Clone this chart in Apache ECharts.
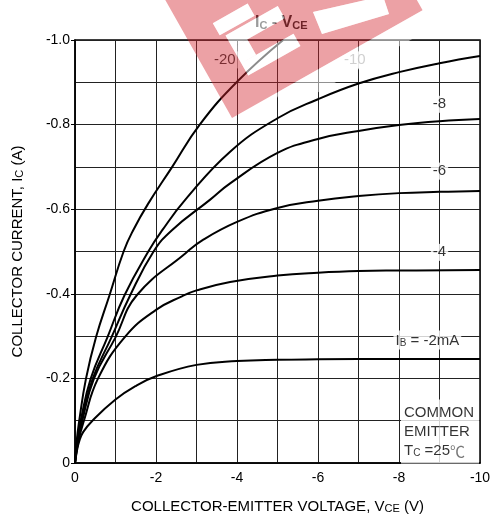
<!DOCTYPE html>
<html><head><meta charset="utf-8">
<script src="https://cdn.jsdelivr.net/npm/echarts@6/dist/echarts.min.js"></script>
<style>html,body{margin:0;padding:0;background:#fff}#c{width:490px;height:517px}</style>
</head><body><div id="c"></div>
<script>
// ---------- data ----------
const xTickValues = [0, -2, -4, -6, -8, -10];
const yTickValues = [0, -0.2, -0.4, -0.6, -0.8, -1.0];

const vce_ib2  = [0, -0.05, -0.1, -0.2, -0.43, -1, -1.5, -2, -3, -4, -5, -6, -8, -10];
const ic_ib2   = [0, -0.03, -0.05, -0.073, -0.1, -0.15, -0.182, -0.205, -0.232, -0.241, -0.244, -0.245, -0.246, -0.246];

const vce_ib4  = [0, -0.08, -0.22, -0.57, -1.25, -2, -2.64, -3, -3.83, -5, -6, -7, -8, -10];
const ic_ib4   = [0, -0.05, -0.1, -0.2, -0.3, -0.362, -0.394, -0.408, -0.428, -0.443, -0.45, -0.454, -0.455, -0.456];

const vce_ib6  = [0, -0.07, -0.18, -0.47, -1.0, -1.52, -2.73, -3.15, -4, -5, -6, -7, -8, -9, -10];
const ic_ib6   = [0, -0.05, -0.1, -0.2, -0.297, -0.396, -0.496, -0.527, -0.57, -0.603, -0.62, -0.631, -0.638, -0.641, -0.643];

const vce_ib8  = [0, -0.06, -0.16, -0.44, -0.9, -1.36, -1.94, -2.4, -3.33, -3.83, -5, -6, -7, -8, -9, -10];
const ic_ib8   = [0, -0.05, -0.1, -0.2, -0.297, -0.396, -0.5, -0.551, -0.622, -0.661, -0.733, -0.766, -0.785, -0.799, -0.808, -0.813];

const vce_ib10 = [0, -0.05, -0.14, -0.39, -0.8, -1.22, -1.81, -2.16, -2.72, -3.83, -5, -6, -7, -8, -9, -10];
const ic_ib10  = [0, -0.05, -0.1, -0.2, -0.297, -0.396, -0.5, -0.551, -0.622, -0.736, -0.815, -0.86, -0.897, -0.924, -0.945, -0.962];

const vce_ib20 = [0, -0.04, -0.1, -0.27, -0.52, -0.85, -1.2, -1.44, -1.8, -2.4, -3.08, -4.02, -5.14];
const ic_ib20  = [0, -0.05, -0.097, -0.199, -0.298, -0.396, -0.5, -0.551, -0.612, -0.7, -0.8, -0.903, -1.0];

// curve annotation labels (text, V, I)
const annText = ['-20', '-10', '-8', '-6', '-4', '{t|I}{s|B}{t| = -2mA}'];
const annV    = [-3.7, -6.91, -9.0, -9.0, -9.0, -8.7];
const annI    = [-0.953, -0.953, -0.848, -0.69, -0.498, -0.291];
const annColor = ['#000', '#888', '#000', '#000', '#000', '#000'];

// condition note anchor (top-left corner of the note)
const noteV = [-8.05];
const noteI = [-0.15];

// ---------- chart ----------
const FONT = '"Liberation Sans", Arial, sans-serif';
const zip = (a, b) => a.map((v, k) => [v, b[k]]);
const curves = [
  zip(vce_ib2, ic_ib2), zip(vce_ib4, ic_ib4), zip(vce_ib6, ic_ib6),
  zip(vce_ib8, ic_ib8), zip(vce_ib10, ic_ib10), zip(vce_ib20, ic_ib20)
];

// watermark overlay geometry (decorative)
const A = [232, 118];
const ang = Math.atan2(108, 191);
const ux = [Math.cos(ang), -Math.sin(ang)], uy = [Math.sin(ang), Math.cos(ang)];
const toScr = (lx, ly) => [A[0] + lx * ux[0] + ly * uy[0], A[1] + lx * ux[1] + ly * uy[1]];
const rectPts = (x0, y0, x1, y1) => [toScr(x0, y0), toScr(x1, y0), toScr(x1, y1), toScr(x0, y1)];
const area = p => p.reduce((s, q, k) => { const r = p[(k + 1) % p.length]; return s + q[0] * r[1] - r[0] * q[1]; }, 0);
const holes = [
  rectPts(30, -92, 70, -78),
  rectPts(35, -75, 95, -61),
  rectPts(35, -61, 52, -43),
  rectPts(35, -43, 95, -29),
  [[313, 12], [383, -4], [389, 14], [322, 34]]
];
const outer = rectPts(0, -230, 219, 0);
const sOuter = Math.sign(area(outer));
let ring = outer.concat([outer[0]]);
holes.forEach(h => {
  const p = Math.sign(area(h)) === sOuter ? h.slice().reverse() : h.slice();
  ring = ring.concat(p, [p[0], outer[0]]);
});
const wm = [
  { type: 'polygon', shape: { points: ring }, style: { fill: 'rgba(212,36,46,0.43)' }, z: 100, silent: true },
  { type: 'polygon', shape: { points: rectPts(50, 0, 240, 20) }, style: { fill: 'rgba(255,255,255,0.5)' }, z: 100, silent: true }
].concat(holes.map(h => ({
  type: 'polygon', shape: { points: h },
  style: { fill: 'rgba(255,255,255,0.55)' }, z: 100, silent: true
})));

const chart = echarts.init(document.getElementById('c'), null, { renderer: 'canvas' });
const lineSeries = curves.map(d => ({
  type: 'line', data: d, showSymbol: false, symbol: 'none',
  smooth: 0.45,
  lineStyle: { color: '#000', width: 2 }, z: 3, silent: true
}));

chart.setOption({
  animation: false,
  textStyle: { fontFamily: FONT },
  title: {
    text: '{a|I}{b|C}{a| - V}{b|CE}',
    left: 250, top: 8,
    textStyle: {
      rich: {
        a: { fontSize: 16, color: '#222', fontFamily: FONT, verticalAlign: 'bottom', lineHeight: 18 },
        b: { fontSize: 11, color: '#222', fontFamily: FONT, verticalAlign: 'bottom', lineHeight: 15 }
      }
    }
  },
  grid: { left: 75, right: 10, top: 40, bottom: 54, show: true, borderColor: '#000', borderWidth: 1.5,
    backgroundColor: 'transparent', containLabel: false, outerBoundsMode: 'none' },
  xAxis: {
    type: 'value', min: -10, max: 0, interval: 2, inverse: true,
    name: 'COLLECTOR-EMITTER VOLTAGE, V{s|CE} (V)',
    nameLocation: 'middle', nameGap: 36,
    nameTextStyle: { fontSize: 15, color: '#000', fontFamily: FONT,
      rich: { s: { fontSize: 11, fontFamily: FONT, verticalAlign: 'bottom', lineHeight: 14 } } },
    axisLine: { show: true, onZero: false, lineStyle: { color: '#000', width: 1.5 } },
    axisTick: { show: false },
    axisLabel: { margin: 8, fontSize: 14, color: '#000', fontFamily: FONT,
      formatter: v => xTickValues.includes(v) ? String(v) : '' },
    splitLine: { show: true, lineStyle: { color: '#222', width: 1 } },
    minorTick: { show: false, splitNumber: 2 },
    minorSplitLine: { show: true, lineStyle: { color: '#222', width: 1 } }
  },
  yAxis: {
    type: 'value', min: -1, max: 0, interval: 0.2, inverse: true,
    name: 'COLLECTOR CURRENT, I{s|C} (A)',
    nameLocation: 'middle', nameGap: 50, nameRotate: 90,
    nameTextStyle: { fontSize: 15, color: '#000', fontFamily: FONT,
      rich: { s: { fontSize: 11, fontFamily: FONT, verticalAlign: 'bottom', lineHeight: 14 } } },
    axisLine: { show: true, onZero: false, lineStyle: { color: '#000', width: 1.5 } },
    axisTick: { show: true, length: 4, inside: false, lineStyle: { color: '#000' } },
    axisLabel: { margin: 5, fontSize: 14, color: '#000', fontFamily: FONT,
      formatter: v => Math.abs(v) < 1e-9 ? '0' : v.toFixed(1) },
    splitLine: { show: true, lineStyle: { color: '#222', width: 1 } },
    minorTick: { show: false, splitNumber: 2 },
    minorSplitLine: { show: true, lineStyle: { color: '#222', width: 1 } }
  },
  graphic: wm,
  series: lineSeries.concat([
    {
      type: 'scatter', symbolSize: 0, silent: true, z: 5,
      data: annV.map((v, k) => ({
        value: [v, annI[k]],
        label: {
          show: true, position: 'inside', formatter: annText[k],
          color: annColor[k], fontSize: 15, fontFamily: FONT,
          backgroundColor: '#fff', padding: [1, 2],
          rich: {
            t: { fontSize: 15, fontFamily: FONT, color: '#000', verticalAlign: 'bottom', lineHeight: 17 },
            s: { fontSize: 10, fontFamily: FONT, color: '#000', verticalAlign: 'bottom', lineHeight: 13 }
          }
        }
      }))
    },
    {
      type: 'scatter', symbolSize: 0, silent: true, z: 5,
      data: noteV.map((v, k) => ({
        value: [v, noteI[k]],
        label: {
          show: true, position: [0, 0], align: 'left', verticalAlign: 'top',
          formatter: '{t|COMMON}\n{t|EMITTER}\n{t|T}{s|C}{t| =25}{c|℃}',
          backgroundColor: '#fff', padding: [2, 4, 5, 3], width: 71,
          rich: {
            t: { fontSize: 15, fontFamily: FONT, color: '#000', lineHeight: 19, verticalAlign: 'bottom' },
            s: { fontSize: 10, fontFamily: FONT, color: '#000', lineHeight: 15, verticalAlign: 'bottom' },
            c: { fontSize: 15, fontFamily: '"Noto Sans CJK SC", "DejaVu Sans", sans-serif', color: '#555', lineHeight: 19, verticalAlign: 'bottom' }
          }
        }
      }))
    }
  ])
});
</script>
</body></html>
